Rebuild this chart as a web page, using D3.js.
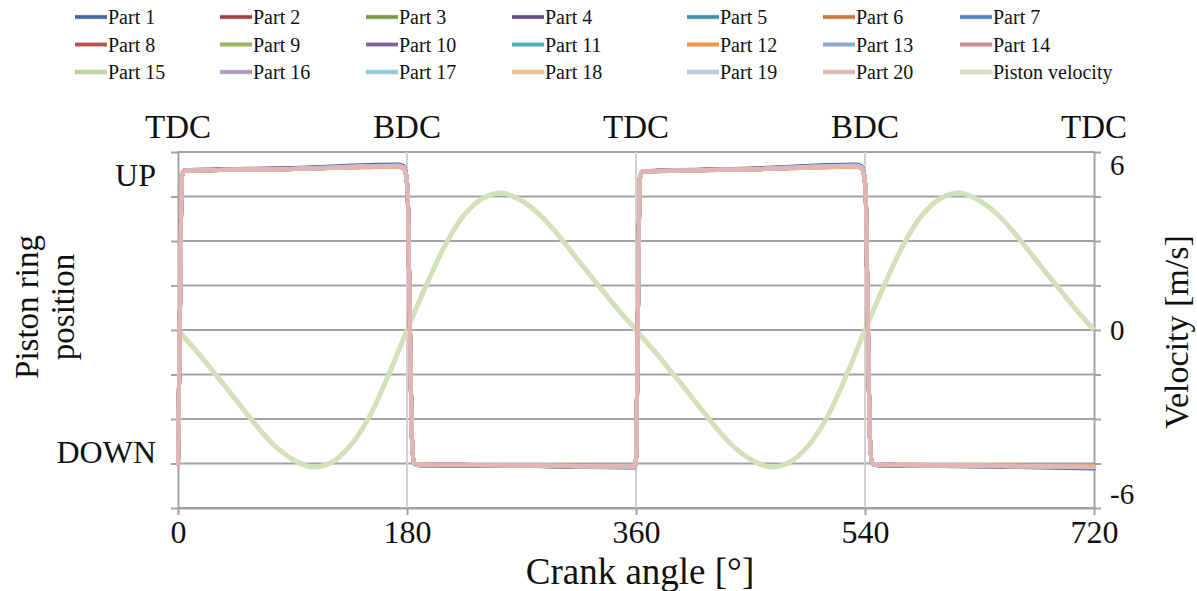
<!DOCTYPE html>
<html>
<head>
<meta charset="utf-8">
<script src="https://cdn.jsdelivr.net/npm/d3@7"></script>
<style>
  html, body { margin: 0; padding: 0; background: #ffffff; }
  svg { display: block; }
</style>
</head>
<body>
<svg id="chart" width="1197" height="591"></svg>
<script>
// ---------------- DATA ----------------
const xTicks = [0, 180, 360, 540, 720];
const topLabels = ["TDC", "BDC", "TDC", "BDC", "TDC"];
const velTicks = [-6, 0, 6];
const velTickLabels = ["-6", "0", "6"];
const posTickLabels = ["UP", "DOWN"];
const posTickValues = [7.48, 1.26];

const seriesNames = ["Part 1","Part 2","Part 3","Part 4","Part 5","Part 6","Part 7",
  "Part 8","Part 9","Part 10","Part 11","Part 12","Part 13","Part 14",
  "Part 15","Part 16","Part 17","Part 18","Part 19","Part 20","Piston velocity"];

// crank angles at which ring positions were read
const ringAngle = [0, 1.5, 3, 5, 90, 172, 177, 179, 180.5, 182, 184, 185.5, 190, 270, 357, 359,
  360, 361.5, 363, 365, 450, 532, 537, 539, 540.5, 542, 544, 545.5, 550, 630, 720];

const part1  = [1.00,4.3,7.46,7.59,7.64,7.72,7.69,7.55,7.12,4.6,1.5,0.99,0.96,0.95,0.91,0.91,1.1,4.3,7.41,7.57,7.63,7.72,7.69,7.55,7.12,4.6,1.5,0.99,0.96,0.94,0.89];
const part2  = [1.00,4.3,7.45,7.58,7.63,7.69,7.66,7.53,7.1,4.6,1.5,1.0,0.97,0.96,0.93,0.93,1.1,4.3,7.4,7.56,7.62,7.69,7.66,7.53,7.1,4.6,1.5,1.0,0.97,0.95,0.92];
const part3  = [1.00,4.3,7.45,7.58,7.62,7.68,7.65,7.52,7.1,4.6,1.5,1.0,0.97,0.96,0.93,0.93,1.1,4.3,7.4,7.56,7.61,7.68,7.65,7.52,7.1,4.6,1.5,1.0,0.97,0.95,0.92];
const part4  = [1.00,4.3,7.45,7.58,7.63,7.69,7.66,7.53,7.1,4.6,1.5,1.0,0.96,0.95,0.92,0.92,1.1,4.3,7.4,7.56,7.62,7.69,7.66,7.53,7.1,4.6,1.5,1.0,0.96,0.94,0.91];
const part5  = [1.00,4.3,7.45,7.58,7.62,7.68,7.65,7.52,7.1,4.6,1.5,1.0,0.97,0.96,0.93,0.93,1.1,4.3,7.4,7.56,7.61,7.68,7.65,7.52,7.1,4.6,1.5,1.0,0.97,0.95,0.92];
const part6  = [1.00,4.3,7.45,7.58,7.62,7.67,7.64,7.52,7.1,4.6,1.5,1.0,0.97,0.96,0.94,0.94,1.1,4.3,7.4,7.56,7.61,7.67,7.64,7.52,7.1,4.6,1.5,1.0,0.97,0.96,0.93];
const part7  = [1.00,4.3,7.45,7.58,7.63,7.70,7.67,7.54,7.11,4.6,1.5,1.0,0.96,0.95,0.92,0.92,1.1,4.3,7.4,7.56,7.62,7.70,7.67,7.54,7.11,4.6,1.5,1.0,0.96,0.94,0.91];
const part8  = [1.00,4.3,7.45,7.58,7.62,7.68,7.65,7.52,7.1,4.6,1.5,1.0,0.97,0.96,0.93,0.93,1.1,4.3,7.4,7.56,7.61,7.68,7.65,7.52,7.1,4.6,1.5,1.0,0.97,0.95,0.92];
const part9  = [1.00,4.3,7.45,7.58,7.62,7.69,7.66,7.52,7.1,4.6,1.5,1.0,0.97,0.96,0.93,0.93,1.1,4.3,7.4,7.56,7.61,7.69,7.66,7.52,7.1,4.6,1.5,1.0,0.97,0.95,0.92];
const part10 = [1.00,4.3,7.45,7.58,7.63,7.69,7.66,7.53,7.1,4.6,1.5,1.0,0.97,0.96,0.92,0.92,1.1,4.3,7.4,7.56,7.62,7.69,7.66,7.53,7.1,4.6,1.5,1.0,0.97,0.95,0.91];
const part11 = [1.00,4.3,7.45,7.58,7.62,7.68,7.65,7.52,7.1,4.6,1.5,1.0,0.97,0.96,0.93,0.93,1.1,4.3,7.4,7.56,7.61,7.68,7.65,7.52,7.1,4.6,1.5,1.0,0.97,0.95,0.92];
const part12 = [1.00,4.3,7.45,7.58,7.62,7.67,7.64,7.52,7.1,4.6,1.5,1.0,0.97,0.96,0.94,0.94,1.1,4.3,7.4,7.56,7.61,7.67,7.64,7.52,7.1,4.6,1.5,1.0,0.97,0.96,0.93];
const part13 = [1.00,4.3,7.45,7.58,7.63,7.69,7.66,7.53,7.1,4.6,1.5,1.0,0.96,0.95,0.92,0.92,1.1,4.3,7.4,7.56,7.62,7.69,7.66,7.53,7.1,4.6,1.5,1.0,0.96,0.94,0.91];
const part14 = [1.00,4.3,7.45,7.58,7.62,7.68,7.65,7.52,7.1,4.6,1.5,1.0,0.97,0.96,0.93,0.93,1.1,4.3,7.4,7.56,7.61,7.68,7.65,7.52,7.1,4.6,1.5,1.0,0.97,0.95,0.92];
const part15 = [1.00,4.3,7.45,7.58,7.62,7.68,7.65,7.52,7.1,4.6,1.5,1.0,0.97,0.96,0.93,0.93,1.1,4.3,7.4,7.56,7.61,7.68,7.65,7.52,7.1,4.6,1.5,1.0,0.97,0.95,0.92];
const part16 = [1.00,4.3,7.45,7.58,7.62,7.69,7.66,7.52,7.1,4.6,1.5,1.0,0.97,0.96,0.93,0.93,1.1,4.3,7.4,7.56,7.61,7.69,7.66,7.52,7.1,4.6,1.5,1.0,0.97,0.95,0.92];
const part17 = [1.00,4.3,7.45,7.58,7.62,7.68,7.65,7.52,7.1,4.6,1.5,1.0,0.97,0.96,0.93,0.93,1.1,4.3,7.4,7.56,7.61,7.68,7.65,7.52,7.1,4.6,1.5,1.0,0.97,0.95,0.92];
const part18 = [1.00,4.3,7.45,7.58,7.62,7.67,7.64,7.52,7.1,4.6,1.5,1.0,0.97,0.96,0.94,0.94,1.1,4.3,7.4,7.56,7.61,7.67,7.64,7.52,7.1,4.6,1.5,1.0,0.97,0.96,0.93];
const part19 = [1.00,4.3,7.45,7.58,7.62,7.69,7.66,7.52,7.1,4.6,1.5,1.0,0.97,0.96,0.93,0.93,1.1,4.3,7.4,7.56,7.61,7.69,7.66,7.52,7.1,4.6,1.5,1.0,0.97,0.95,0.92];
const part20 = [1.00,4.3,7.45,7.58,7.62,7.68,7.65,7.52,7.1,4.6,1.5,1.0,0.97,0.96,0.93,0.93,1.1,4.3,7.4,7.56,7.61,7.68,7.65,7.52,7.1,4.6,1.5,1.0,0.97,0.95,0.92];

// piston velocity [m/s]
const velAngle = [0,15,30,45,60,75,90,105,120,135,150,165,180,195,210,225,240,255,270,285,300,315,330,345,360,
  375,390,405,420,435,450,465,480,495,510,525,540,555,570,585,600,615,630,645,660,675,690,705,720];
const velocity = [0,-0.80,-1.65,-2.52,-3.40,-4.18,-4.72,-5.00,-4.85,-4.25,-3.20,-1.70,0,1.62,3.10,4.20,4.82,5.00,4.72,4.18,3.40,2.52,1.65,0.80,0,
  -0.80,-1.65,-2.52,-3.40,-4.18,-4.72,-5.00,-4.85,-4.25,-3.20,-1.70,0,1.62,3.10,4.20,4.82,5.00,4.72,4.18,3.40,2.52,1.65,0.80,0];

// ---------------- STYLE / LAYOUT ----------------
const FONT = '"Liberation Serif", "Times New Roman", Tinos, "DejaVu Serif", "Noto Serif", serif';
const seriesColors = ["#41699b","#a03f3c","#7c9a46","#624d84","#3b8fa3","#cc7b38","#4f81bd",
  "#c0504d","#9bbb59","#8064a2","#4bacc6","#f79646","#8ea8d4","#d48a88",
  "#bed494","#ab9bc4","#8dc7da","#f9b584","#b8c8e0","#e4b4b3","#d3e1bb"];
const legendColX = [75, 220, 366, 512, 687, 823, 960];
const legendRowY = [17, 44.5, 72];

const parts = [part1,part2,part3,part4,part5,part6,part7,part8,part9,part10,
  part11,part12,part13,part14,part15,part16,part17,part18,part19,part20];

const svg = d3.select("#chart").attr("font-family", FONT);
const L = 178, R = 1094, T = 152, B = 508;
const x = d3.scaleLinear().domain([0, 720]).range([L, R]);
const yPos = d3.scaleLinear().domain([0, 8]).range([B, T]);
const yVel = d3.scaleLinear().domain([-6.5, 6.5]).range([B, T]);
const gridVals = d3.range(0, 9);
const gridCol = "#a3a3a3";

function txt(sel, size) {
  return sel.attr("font-family", FONT).attr("font-size", size).attr("fill", "#111");
}

// horizontal gridlines
svg.append("g").selectAll("line").data(gridVals).join("line")
  .attr("x1", L).attr("x2", R)
  .attr("y1", d => yPos(d)).attr("y2", d => yPos(d))
  .attr("stroke", gridCol).attr("stroke-width", 2);

// vertical gridlines
svg.append("g").selectAll("line").data(xTicks.slice(1, -1)).join("line")
  .attr("x1", d => x(d)).attr("x2", d => x(d))
  .attr("y1", T).attr("y2", B)
  .attr("stroke", "#d2d2d2").attr("stroke-width", 2);

function styleAxis(g) {
  g.attr("font-family", FONT);
  g.select(".domain").attr("stroke", gridCol).attr("stroke-width", 2);
  g.selectAll(".tick line").attr("stroke", gridCol).attr("stroke-width", 2);
}

// bottom axis
const xAxis = svg.append("g").attr("transform", `translate(0,${B})`)
  .call(d3.axisBottom(x).tickValues(xTicks).tickSize(7).tickSizeOuter(0).tickPadding(5).tickFormat(d => String(d)));
styleAxis(xAxis);
txt(xAxis.selectAll("text"), 32);

// left axis
const yAxisL = svg.append("g").attr("transform", `translate(${L},0)`)
  .call(d3.axisLeft(yPos).tickValues(gridVals).tickSize(7).tickSizeOuter(0).tickFormat(""));
styleAxis(yAxisL);

// right axis (marks)
const yAxisR = svg.append("g").attr("transform", `translate(${R},0)`)
  .call(d3.axisRight(yVel).tickValues(gridVals.map(v => yVel.invert(yPos(v)))).tickSize(7).tickSizeOuter(0).tickFormat(""));
styleAxis(yAxisR);

// right axis labels
const yAxisRL = svg.append("g").attr("transform", `translate(${R},0)`)
  .call(d3.axisRight(yVel).tickValues(velTicks).tickSize(0).tickPadding(16)
    .tickFormat((d, i) => velTickLabels[i]));
yAxisRL.select(".domain").remove();
styleAxis(yAxisRL);
txt(yAxisRL.selectAll("text"), 29);

// left custom labels
txt(svg.append("g").selectAll("text").data(posTickLabels).join("text")
  .attr("x", 156).attr("y", (d, i) => yPos(posTickValues[i])).attr("dy", "0.35em")
  .attr("text-anchor", "end").text(d => d), 32);

// top labels
txt(svg.append("g").selectAll("text").data(topLabels).join("text")
  .attr("x", (d, i) => x(xTicks[i])).attr("y", 138)
  .attr("text-anchor", "middle").text(d => d), 33);

// axis titles
txt(svg.append("text").attr("x", 640).attr("y", 584).attr("text-anchor", "middle")
  .text("Crank angle [°]"), 37);
const lt = txt(svg.append("text").attr("transform", "translate(38,307) rotate(-90)")
  .attr("text-anchor", "middle"), 33);
lt.append("tspan").attr("x", 0).attr("y", 0).text("Piston ring");
lt.append("tspan").attr("x", 0).attr("y", 36).text("position");
txt(svg.append("text").attr("transform", "translate(1188,332) rotate(-90)")
  .attr("text-anchor", "middle").text("Velocity [m/s]"), 34);

// series
const plot = svg.append("g");
const velLine = d3.line().x((d, i) => x(velAngle[i])).y(d => yVel(d)).curve(d3.curveCatmullRom.alpha(0.5));
plot.append("path").attr("d", velLine(velocity))
  .attr("fill", "none").attr("stroke", seriesColors[20]).attr("stroke-width", 5)
  .attr("stroke-linejoin", "round");

const ringLine = d3.line().x((d, i) => x(ringAngle[i])).y(d => yPos(d)).curve(d3.curveMonotoneX);
parts.forEach((p, k) => {
  plot.append("path").attr("d", ringLine(p))
    .attr("fill", "none").attr("stroke", seriesColors[k]).attr("stroke-width", 4)
    .attr("stroke-linejoin", "round").attr("stroke-linecap", "round");
});

// legend
const lg = svg.append("g");
seriesNames.forEach((name, i) => {
  const cx = legendColX[i % 7], cy = legendRowY[Math.floor(i / 7)];
  lg.append("line").attr("x1", cx).attr("x2", cx + 32).attr("y1", cy).attr("y2", cy)
    .attr("stroke", "#9a9a9a").attr("stroke-width", 5).attr("stroke-opacity", 0.35);
  lg.append("line").attr("x1", cx).attr("x2", cx + 32).attr("y1", cy).attr("y2", cy)
    .attr("stroke", seriesColors[i]).attr("stroke-width", 3.5);
  txt(lg.append("text").attr("x", cx + 33).attr("y", cy).attr("dy", "0.35em").text(name), 20);
});
</script>
</body>
</html>
